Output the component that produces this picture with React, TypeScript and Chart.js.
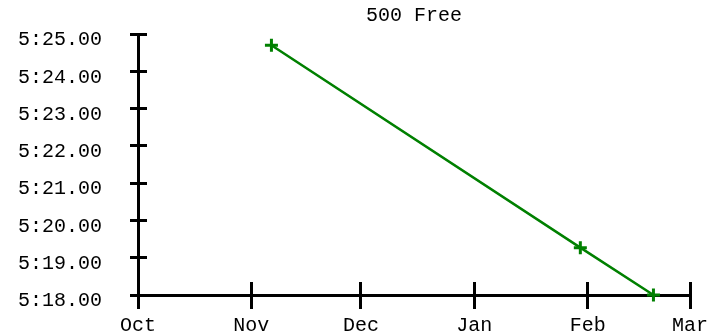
import React, { useEffect, useRef } from "react";
import { Chart, registerables } from "chart.js";

Chart.register(...registerables);

const TITLE = "500 Free";
const SWIM_DATES = ["2018-11-06T12:00:00Z", "2019-01-30T00:00:00Z", "2019-02-19T00:00:00Z"];
const SWIM_TIMES = [324.7, 319.27, 318.0]; // seconds
const MONTH_TICKS = ["2018-10-01", "2018-11-01", "2018-12-01", "2019-01-01", "2019-02-01", "2019-03-01"];
const MONTH_LABELS = ["Oct", "Nov", "Dec", "Jan", "Feb", "Mar"];
const Y_MIN = 318;
const Y_MAX = 325;
const Y_STEP = 1;

const FONT = "'Liberation Mono', 'Courier New', monospace";
const GREEN = "#008000";

const fmtTime = (v: number) => {
  const m = Math.floor(v / 60);
  const s = v - m * 60;
  return `${m}:${s.toFixed(2).padStart(5, "0")}`;
};

const align = (p: number, w: number) => Math.round(p - w / 2) + w / 2;

const crossTicks = {
  id: "crossTicks",
  beforeDatasetsDraw(chart: any) {
    const { ctx, chartArea, scales } = chart;
    ctx.save();
    ctx.strokeStyle = "#000";
    ctx.lineWidth = 3;
    const xs = scales.x;
    xs.ticks.forEach((_: any, i: number) => {
      const p = align(xs.getPixelForTick(i), 3);
      ctx.beginPath();
      ctx.moveTo(p, chartArea.bottom);
      ctx.lineTo(p, chartArea.bottom - 13);
      ctx.stroke();
    });
    const ys = scales.y;
    ys.ticks.forEach((_: any, i: number) => {
      const p = align(ys.getPixelForTick(i), 3);
      ctx.beginPath();
      ctx.moveTo(chartArea.left, p);
      ctx.lineTo(chartArea.left + 9, p);
      ctx.stroke();
    });
    ctx.restore();
  },
};

export default function App() {
  const ref = useRef<HTMLCanvasElement>(null);

  useEffect(() => {
    if (!ref.current) return;
    const points = SWIM_DATES.map((d, i) => ({ x: Date.parse(d), y: SWIM_TIMES[i] }));
    const chart = new Chart(ref.current, {
      type: "line",
      data: {
        datasets: [
          {
            data: points,
            borderColor: GREEN,
            backgroundColor: GREEN,
            borderWidth: 2.5,
            tension: 0,
            pointStyle: "cross",
            pointRadius: 6.5,
            pointBorderWidth: 3,
            pointBorderColor: GREEN,
            clip: false as any,
          },
        ],
      },
      options: {
        responsive: false,
        animation: false,
        devicePixelRatio: 1,
        layout: { padding: { top: 0, right: 29, bottom: 0, left: 0 } },
        plugins: {
          legend: { display: false },
          tooltip: { enabled: false },
          title: {
            display: true,
            text: TITLE,
            fullSize: false,
            color: "#000",
            font: { family: FONT, size: 20, weight: "normal", lineHeight: 0.75 },
            padding: { top: 0, bottom: 11 },
          },
        },
        scales: {
          x: {
            type: "linear",
            min: Date.parse(MONTH_TICKS[0]),
            max: Date.parse(MONTH_TICKS[MONTH_TICKS.length - 1]),
            afterBuildTicks: (scale: any) => {
              scale.ticks = MONTH_TICKS.map((d) => ({ value: Date.parse(d) }));
            },
            afterFit: (scale: any) => {
              scale.height = 40;
            },
            ticks: {
              autoSkip: false,
              maxRotation: 0,
              minRotation: 0,
              padding: 5,
              color: "#000",
              font: { family: FONT, size: 20 },
              callback: (_v: any, i: number) => MONTH_LABELS[i],
            },
            grid: {
              display: true,
              drawOnChartArea: false,
              drawTicks: true,
              tickLength: 14,
              color: "#000",
              lineWidth: 3,
            },
            border: { display: true, color: "#000", width: 3 },
          },
          y: {
            type: "linear",
            min: Y_MIN,
            max: Y_MAX,
            afterFit: (scale: any) => {
              scale.width = 130;
              scale.paddingTop = 0;
              scale.paddingBottom = 0;
            },
            ticks: {
              stepSize: Y_STEP,
              padding: 28,
              labelOffset: 6,
              color: "#000",
              font: { family: FONT, size: 20 },
              callback: (v: any) => fmtTime(Number(v)),
            },
            grid: {
              display: true,
              drawOnChartArea: false,
              drawTicks: true,
              tickLength: 8,
              color: "#000",
              lineWidth: 3,
            },
            border: { display: true, color: "#000", width: 3 },
          },
        },
      },
      plugins: [crossTicks],
    });
    return () => chart.destroy();
  }, []);

  return (
    <canvas
      ref={ref}
      width={711}
      height={327}
      style={{ position: "absolute", left: 8, top: 8, display: "block" }}
    />
  );
}
